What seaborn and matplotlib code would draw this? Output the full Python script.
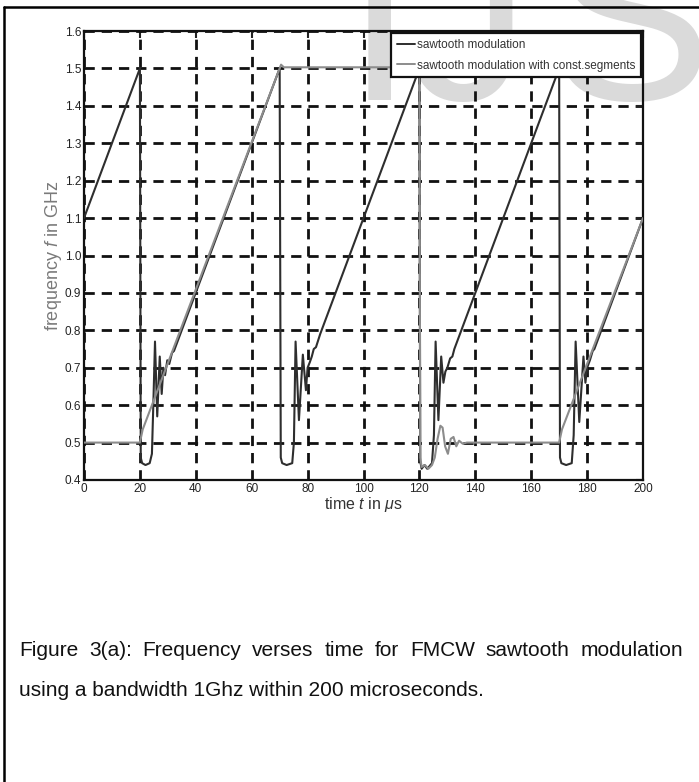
import numpy as np
import pandas as pd
import matplotlib
matplotlib.use('Agg')
import matplotlib.pyplot as plt
import seaborn as sns
from matplotlib import font_manager
from matplotlib.lines import Line2D

# =============================================================================
# Data (curve vertices, time in us, frequency in GHz)
# =============================================================================
t_saw = [0, 20,
         20.3, 20.8, 22.0, 23.5, 24.3, 24.8, 25.4, 26.2, 27.1, 27.8, 28.4, 29.0, 29.8, 30.5, 31.5, 32.2,
         70,
         70.4, 70.9, 72.5, 74.5, 75.1, 75.7, 76.9, 78.3, 79.4, 80.0, 80.8, 81.5, 82.2, 83.0, 84.5,
         120,
         120.3, 120.8, 121.8, 122.8, 124.5, 125.2, 125.8, 126.8, 127.8, 128.6, 129.3, 130.0, 131.0, 131.8, 132.5,
         170,
         170.3, 170.8, 172.5, 174.5, 175.2, 175.9, 177.2, 178.7, 179.4, 180.0, 181.0, 182.0, 182.6,
         200]
f_saw = [1.10, 1.50,
         0.46, 0.445, 0.44, 0.445, 0.47, 0.60, 0.77, 0.57, 0.73, 0.63, 0.70, 0.68, 0.72, 0.71, 0.74, 0.745,
         1.50,
         0.46, 0.445, 0.44, 0.445, 0.50, 0.77, 0.56, 0.735, 0.64, 0.70, 0.715, 0.73, 0.75, 0.755, 0.79,
         1.50,
         0.45, 0.43, 0.44, 0.43, 0.445, 0.52, 0.77, 0.56, 0.73, 0.66, 0.69, 0.70, 0.725, 0.73, 0.75,
         1.50,
         0.46, 0.445, 0.44, 0.445, 0.52, 0.77, 0.555, 0.73, 0.66, 0.70, 0.72, 0.745, 0.75,
         1.10]

t_const = [0, 20, 21, 70, 70.5, 71.5, 120,
           120.3, 120.8, 122.0, 123.2, 124.5, 125.5, 126.5, 127.5, 128.3, 129.2, 130.2, 131.2, 132.2,
           133.2, 134.2, 135.5, 137,
           170, 171, 200]
f_const = [0.50, 0.50, 0.535, 1.50, 1.51, 1.503, 1.503,
           0.46, 0.435, 0.44, 0.43, 0.44, 0.46, 0.51, 0.545, 0.54, 0.49, 0.47, 0.51, 0.515,
           0.49, 0.505, 0.497, 0.50,
           0.50, 0.535, 1.10]

series_names = ['sawtooth modulation', 'sawtooth modulation with const.segments']
x_ticks = [0, 20, 40, 60, 80, 100, 120, 140, 160, 180, 200]
y_ticks = [0.4, 0.5, 0.6, 0.7, 0.8, 0.9, 1.0, 1.1, 1.2, 1.3, 1.4, 1.5, 1.6]

caption_1 = 'Figure 3(a): Frequency verses time for FMCW sawtooth modulation'
caption_2 = 'using a bandwidth 1Ghz within 200 microseconds.'

df = pd.concat([
    pd.DataFrame({'t': t_saw, 'f': f_saw, 'series': series_names[0]}),
    pd.DataFrame({'t': t_const, 'f': f_const, 'series': series_names[1]}),
], ignore_index=True)

# =============================================================================
# Style
# =============================================================================
sns.set_style('white')
names = {f.name for f in font_manager.fontManager.ttflist}
base_font = 'Liberation Sans' if 'Liberation Sans' in names else 'DejaVu Sans'
plt.rcParams['font.family'] = [base_font, 'DejaVu Sans']
plt.rcParams['mathtext.fontset'] = 'custom'
plt.rcParams['mathtext.it'] = base_font + ':italic'
plt.rcParams['mathtext.rm'] = base_font

fig = plt.figure(figsize=(6.99, 7.82), dpi=100)
fig.patch.set_facecolor('white')
W, H = 699, 782

# watermark letters behind the plot
for letter, xp in [('I', 346), ('J', 408), ('S', 550)]:
    fig.text(xp / W, 1 - 100 / H, letter, fontsize=175, color='#dadada',
             ha='left', va='baseline', zorder=-5)

ax = fig.add_axes([84 / W, 1 - 480 / H, 559 / W, 449 / H])
ax.patch.set_alpha(0)

sns.lineplot(data=df, x='t', y='f', hue='series', estimator=None, sort=False,
             palette={series_names[0]: '#2e2e2e', series_names[1]: '#8c8c8c'},
             linewidth=1.5, ax=ax, zorder=3)

ax.set_xlim(0, 200)
ax.set_ylim(0.4, 1.6)
ax.set_xticks(x_ticks)
ax.set_yticks(y_ticks)
ax.set_xticklabels([str(v) for v in x_ticks])
ax.set_yticklabels(['%.1f' % v for v in y_ticks])
ax.grid(True, color='#111111', linestyle=(0, (3.7, 2.5)), linewidth=2.0, zorder=1)
ax.set_axisbelow(True)
ax.tick_params(direction='in', length=5, width=1.5, top=True, right=True,
               labelsize=8.5, colors='#222222', pad=2)
for sp in ax.spines.values():
    sp.set_linewidth(1.6)
    sp.set_color('#111111')

ax.set_xlabel(r'time $t$ in $\mu$s', fontsize=11.5, color='#333333', labelpad=0)
ax.set_ylabel(r'frequency $f$ in GHz', fontsize=13, color='#7a7a7a')
ax.yaxis.set_label_coords(-0.036, 0.5)

leg = ax.legend(loc='upper right', fontsize=8.5, frameon=True, fancybox=False,
                handlelength=1.5, handletextpad=0.2, borderpad=0.5,
                labelspacing=0.75, borderaxespad=0.15, framealpha=1)
leg.get_frame().set_edgecolor('#111111')
leg.get_frame().set_linewidth(1.6)
for line in leg.get_lines():
    line.set_linewidth(1.4)
for txt in leg.get_texts():
    txt.set_color('#333333')

# outer page frame (left and top edges visible)
fig.add_artist(Line2D([4 / W, 4 / W], [0, 1 - 7 / H], color='black', linewidth=1.8,
                      transform=fig.transFigure))
fig.add_artist(Line2D([4 / W, 1], [1 - 7 / H, 1 - 7 / H], color='black', linewidth=1.8,
                      transform=fig.transFigure))

# caption: first line justified, second line left aligned
cap_size = 15
renderer = fig.canvas.get_renderer()
words = caption_1.split(' ')
objs = [fig.text(0, 1 - 650 / H, w_, fontsize=cap_size, color='#111111', va='center')
        for w_ in words]
widths = [o.get_window_extent(renderer).width for o in objs]
left, right = 19, 683
gap = (right - left - sum(widths)) / (len(words) - 1)
x = left
for o, wd in zip(objs, widths):
    o.set_x(x / W)
    x += wd + gap
fig.text(left / W, 1 - 691 / H, caption_2, fontsize=cap_size, color='#111111', va='center')

fig.savefig('out.png', dpi=100)
